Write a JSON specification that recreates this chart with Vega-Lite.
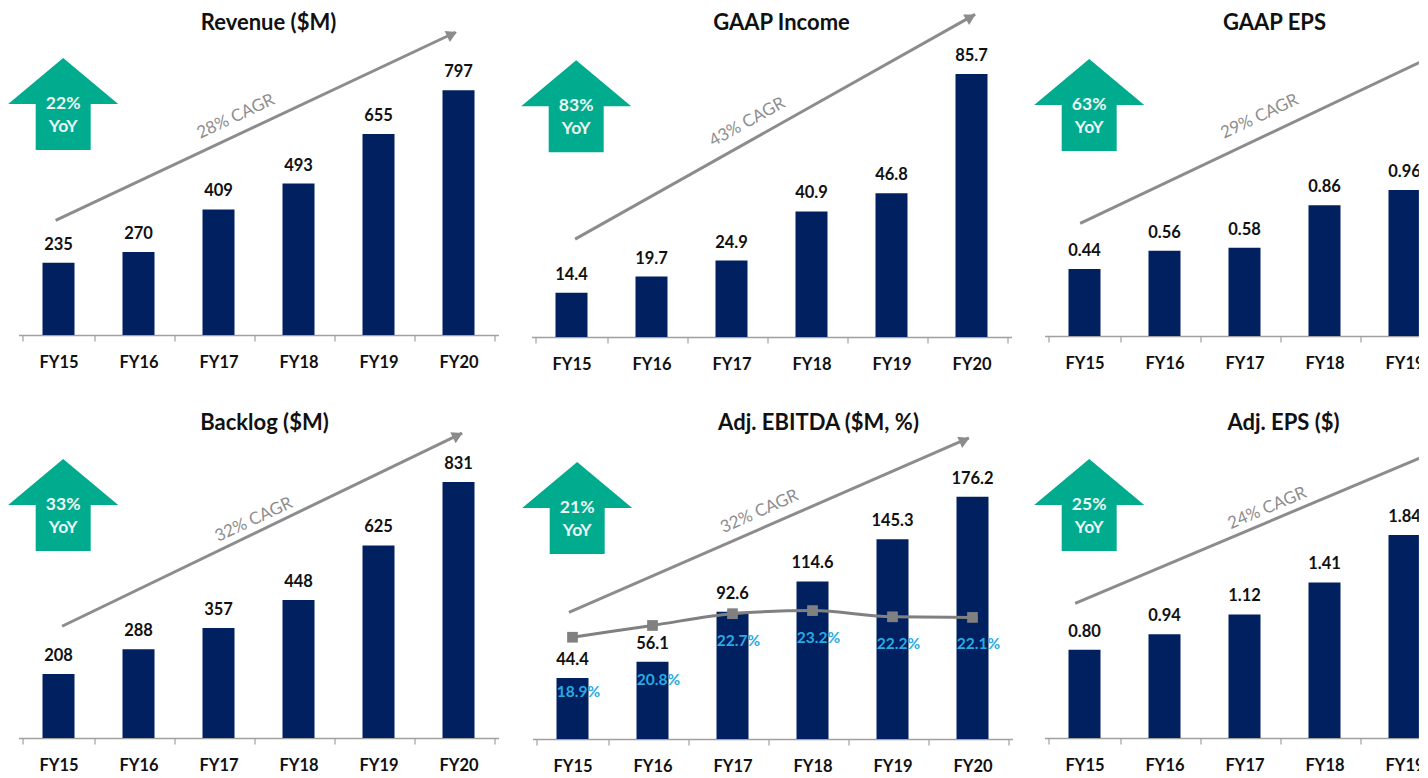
{"$schema":"https://vega.github.io/schema/vega-lite/v6.json","background":"white","padding":{"left":7.5,"top":0,"right":0,"bottom":0},"bounds":"flush","columns":3,"spacing":{"row":63,"column":33},
"config":{"view":{"stroke":null},"font":"Lato","title":{"font":"Lato","fontWeight":"bold","fontSize":22,"color":"#111111","anchor":"middle","offset":-35},
"axisX":{"title":null,"labelAngle":0,"tickBand":"extent","labelFont":"Lato","labelFontWeight":"bold","labelFontSize":16.5,"labelColor":"#111111","domainColor":"#a0a0a0","domainWidth":1.5,"tickColor":"#a0a0a0","tickWidth":1.2,"tickSize":6,"labelPadding":13,"grid":false},"axisY":{"disable":true}},
"concat":[
{"title":{"text":"Revenue ($M)","dx":10},"width":480,"height":335,"layer":[
{"data":{"values":[{"fy":"FY15","value":235},{"fy":"FY16","value":270},{"fy":"FY17","value":409},{"fy":"FY18","value":493},{"fy":"FY19","value":655},{"fy":"FY20","value":797}]},"layer":[
{"mark":{"type":"bar","width":32,"color":"#002060"},"encoding":{"x":{"field":"fy","type":"nominal"},"y":{"field":"value","type":"quantitative","scale":{"domain":[0,1091],"nice":false}}}},
{"mark":{"type":"text","font":"Lato","fontWeight":"bold","fontSize":16.5,"color":"#111111","dy":-18},"encoding":{"x":{"field":"fy","type":"nominal"},"y":{"field":"value","type":"quantitative"},"text":{"field":"value","type":"quantitative","format":"d"}}}]},
{"data":{"values":[{"fy":"FY15","v":373},{"fy":"FY20","v":986}]},"mark":{"type":"line","color":"#8c8c8c","strokeWidth":3},"encoding":{"x":{"field":"fy","type":"nominal","bandPosition":0.46},"y":{"field":"v","type":"quantitative"}}},
{"data":{"values":[{"fy":"FY20","v":979.5}]},"mark":{"type":"point","shape":"triangle-up","filled":true,"opacity":1,"size":150,"color":"#8c8c8c","angle":64.8},"encoding":{"x":{"field":"fy","type":"nominal","bandPosition":0.41},"y":{"field":"v","type":"quantitative"}}},
{"data":{"values":[{"fy":"FY17","v":711,"label":"28% CAGR"}]},"mark":{"type":"text","font":"Lato","fontSize":17,"color":"#8e8e8e","angle":-25},"encoding":{"x":{"field":"fy","type":"nominal","bandPosition":0.74},"y":{"field":"v","type":"quantitative"},"text":{"field":"label"}}},
{"data":{"values":[{"fy":"FY15","v":752.4,"label":"22%","unit":"YoY"}]},"layer":[
{"mark":{"type":"point","shape":"M0 -0.836 L1 0 L0.5 0 L0.5 0.836 L-0.5 0.836 L-0.5 0 L-1 0 Z","filled":true,"opacity":1,"size":12100,"color":"#00ab8e"},"encoding":{"x":{"field":"fy","type":"nominal","bandPosition":0.565},"y":{"field":"v","type":"quantitative"}}},
{"mark":{"type":"text","font":"Lato","fontWeight":"bold","fontSize":17.5,"color":"#eaf7f4"},"encoding":{"x":{"field":"fy","type":"nominal","bandPosition":0.565},"y":{"field":"v","type":"quantitative"},"text":{"field":"label"}}},
{"mark":{"type":"text","font":"Lato","fontWeight":"bold","fontSize":17.5,"color":"#eaf7f4","dy":23},"encoding":{"x":{"field":"fy","type":"nominal","bandPosition":0.565},"y":{"field":"v","type":"quantitative"},"text":{"field":"unit"}}}]}]},
{"title":{"text":"GAAP Income","dx":10},"width":480,"height":337,"layer":[
{"data":{"values":[{"fy":"FY15","value":14.4},{"fy":"FY16","value":19.7},{"fy":"FY17","value":24.9},{"fy":"FY18","value":40.9},{"fy":"FY19","value":46.8},{"fy":"FY20","value":85.7}]},"layer":[
{"mark":{"type":"bar","width":32,"color":"#002060"},"encoding":{"x":{"field":"fy","type":"nominal"},"y":{"field":"value","type":"quantitative","scale":{"domain":[0,109.8],"nice":false}}}},
{"mark":{"type":"text","font":"Lato","fontWeight":"bold","fontSize":16.5,"color":"#111111","dy":-18},"encoding":{"x":{"field":"fy","type":"nominal"},"y":{"field":"value","type":"quantitative"},"text":{"field":"value","type":"quantitative","format":".1f"}}}]},
{"data":{"values":[{"fy":"FY15","v":31.9},{"fy":"FY20","v":105.1}]},"mark":{"type":"line","color":"#8c8c8c","strokeWidth":3},"encoding":{"x":{"field":"fy","type":"nominal","bandPosition":0.55},"y":{"field":"v","type":"quantitative"}}},
{"data":{"values":[{"fy":"FY20","v":104.2}]},"mark":{"type":"point","shape":"triangle-up","filled":true,"opacity":1,"size":150,"color":"#8c8c8c","angle":60.7},"encoding":{"x":{"field":"fy","type":"nominal","bandPosition":0.49},"y":{"field":"v","type":"quantitative"}}},
{"data":{"values":[{"fy":"FY17","v":70,"label":"43% CAGR"}]},"mark":{"type":"text","font":"Lato","fontSize":17,"color":"#8e8e8e","angle":-29},"encoding":{"x":{"field":"fy","type":"nominal","bandPosition":0.72},"y":{"field":"v","type":"quantitative"},"text":{"field":"label"}}},
{"data":{"values":[{"fy":"FY15","v":75.2,"label":"83%","unit":"YoY"}]},"layer":[
{"mark":{"type":"point","shape":"M0 -0.836 L1 0 L0.5 0 L0.5 0.836 L-0.5 0.836 L-0.5 0 L-1 0 Z","filled":true,"opacity":1,"size":12100,"color":"#00ab8e"},"encoding":{"x":{"field":"fy","type":"nominal","bandPosition":0.565},"y":{"field":"v","type":"quantitative"}}},
{"mark":{"type":"text","font":"Lato","fontWeight":"bold","fontSize":17.5,"color":"#eaf7f4"},"encoding":{"x":{"field":"fy","type":"nominal","bandPosition":0.565},"y":{"field":"v","type":"quantitative"},"text":{"field":"label"}}},
{"mark":{"type":"text","font":"Lato","fontWeight":"bold","fontSize":17.5,"color":"#eaf7f4","dy":23},"encoding":{"x":{"field":"fy","type":"nominal","bandPosition":0.565},"y":{"field":"v","type":"quantitative"},"text":{"field":"unit"}}}]}]},
{"title":{"text":"GAAP EPS","dx":-10},"width":480,"height":336,"layer":[
{"data":{"values":[{"fy":"FY15","value":0.44},{"fy":"FY16","value":0.56},{"fy":"FY17","value":0.58},{"fy":"FY18","value":0.86},{"fy":"FY19","value":0.96},{"fy":"FY20","value":1.57}]},"layer":[
{"mark":{"type":"bar","width":32,"color":"#002060"},"encoding":{"x":{"field":"fy","type":"nominal"},"y":{"field":"value","type":"quantitative","scale":{"domain":[0,2.21],"nice":false}}}},
{"mark":{"type":"text","font":"Lato","fontWeight":"bold","fontSize":16.5,"color":"#111111","dy":-18},"encoding":{"x":{"field":"fy","type":"nominal"},"y":{"field":"value","type":"quantitative"},"text":{"field":"value","type":"quantitative","format":".2f"}}}]},
{"data":{"values":[{"fy":"FY15","v":0.741},{"fy":"FY20","v":1.989}]},"mark":{"type":"line","color":"#8c8c8c","strokeWidth":3},"encoding":{"x":{"field":"fy","type":"nominal","bandPosition":0.44},"y":{"field":"v","type":"quantitative"}}},
{"data":{"values":[{"fy":"FY17","v":1.443,"label":"29% CAGR"}]},"mark":{"type":"text","font":"Lato","fontSize":17,"color":"#8e8e8e","angle":-25},"encoding":{"x":{"field":"fy","type":"nominal","bandPosition":0.71},"y":{"field":"v","type":"quantitative"},"text":{"field":"label"}}},
{"data":{"values":[{"fy":"FY15","v":1.52,"label":"63%","unit":"YoY"}]},"layer":[
{"mark":{"type":"point","shape":"M0 -0.836 L1 0 L0.5 0 L0.5 0.836 L-0.5 0.836 L-0.5 0 L-1 0 Z","filled":true,"opacity":1,"size":12100,"color":"#00ab8e"},"encoding":{"x":{"field":"fy","type":"nominal","bandPosition":0.565},"y":{"field":"v","type":"quantitative"}}},
{"mark":{"type":"text","font":"Lato","fontWeight":"bold","fontSize":17.5,"color":"#eaf7f4"},"encoding":{"x":{"field":"fy","type":"nominal","bandPosition":0.565},"y":{"field":"v","type":"quantitative"},"text":{"field":"label"}}},
{"mark":{"type":"text","font":"Lato","fontWeight":"bold","fontSize":17.5,"color":"#eaf7f4","dy":23},"encoding":{"x":{"field":"fy","type":"nominal","bandPosition":0.565},"y":{"field":"v","type":"quantitative"},"text":{"field":"unit"}}}]},
{"data":{"values":[{"fy":"FY19","fy2":"FY20","top":2.21,"bottom":-0.5}]},"mark":{"type":"rect","color":"white"},"encoding":{"x":{"field":"fy","type":"nominal","bandPosition":0.7},"x2":{"field":"fy2"},"y":{"field":"top","type":"quantitative"},"y2":{"field":"bottom"}}}]},
{"title":{"text":"Backlog ($M)","dx":6},"width":480,"height":338,"layer":[
{"data":{"values":[{"fy":"FY15","value":208},{"fy":"FY16","value":288},{"fy":"FY17","value":357},{"fy":"FY18","value":448},{"fy":"FY19","value":625},{"fy":"FY20","value":831}]},"layer":[
{"mark":{"type":"bar","width":32,"color":"#002060"},"encoding":{"x":{"field":"fy","type":"nominal"},"y":{"field":"value","type":"quantitative","scale":{"domain":[0,1097],"nice":false}}}},
{"mark":{"type":"text","font":"Lato","fontWeight":"bold","fontSize":16.5,"color":"#111111","dy":-18},"encoding":{"x":{"field":"fy","type":"nominal"},"y":{"field":"value","type":"quantitative"},"text":{"field":"value","type":"quantitative","format":"d"}}}]},
{"data":{"values":[{"fy":"FY15","v":362.7},{"fy":"FY20","v":989.6}]},"mark":{"type":"line","color":"#8c8c8c","strokeWidth":3},"encoding":{"x":{"field":"fy","type":"nominal","bandPosition":0.55},"y":{"field":"v","type":"quantitative"}}},
{"data":{"values":[{"fy":"FY20","v":982}]},"mark":{"type":"point","shape":"triangle-up","filled":true,"opacity":1,"size":150,"color":"#8c8c8c","angle":64.2},"encoding":{"x":{"field":"fy","type":"nominal","bandPosition":0.49},"y":{"field":"v","type":"quantitative"}}},
{"data":{"values":[{"fy":"FY17","v":708,"label":"32% CAGR"}]},"mark":{"type":"text","font":"Lato","fontSize":17,"color":"#8e8e8e","angle":-25},"encoding":{"x":{"field":"fy","type":"nominal","bandPosition":0.99},"y":{"field":"v","type":"quantitative"},"text":{"field":"label"}}},
{"data":{"values":[{"fy":"FY15","v":756.5,"label":"33%","unit":"YoY"}]},"layer":[
{"mark":{"type":"point","shape":"M0 -0.836 L1 0 L0.5 0 L0.5 0.836 L-0.5 0.836 L-0.5 0 L-1 0 Z","filled":true,"opacity":1,"size":12100,"color":"#00ab8e"},"encoding":{"x":{"field":"fy","type":"nominal","bandPosition":0.565},"y":{"field":"v","type":"quantitative"}}},
{"mark":{"type":"text","font":"Lato","fontWeight":"bold","fontSize":17.5,"color":"#eaf7f4"},"encoding":{"x":{"field":"fy","type":"nominal","bandPosition":0.565},"y":{"field":"v","type":"quantitative"},"text":{"field":"label"}}},
{"mark":{"type":"text","font":"Lato","fontWeight":"bold","fontSize":17.5,"color":"#eaf7f4","dy":23},"encoding":{"x":{"field":"fy","type":"nominal","bandPosition":0.565},"y":{"field":"v","type":"quantitative"},"text":{"field":"unit"}}}]}]},
{"title":{"text":"Adj. EBITDA ($M, %)","dx":47},"width":480,"height":339,"resolve":{"scale":{"y":"independent"}},"layer":[
{"layer":[
{"data":{"values":[{"fy":"FY15","value":44.4},{"fy":"FY16","value":56.1},{"fy":"FY17","value":92.6},{"fy":"FY18","value":114.6},{"fy":"FY19","value":145.3},{"fy":"FY20","value":176.2}]},"layer":[
{"mark":{"type":"bar","width":32,"color":"#002060"},"encoding":{"x":{"field":"fy","type":"nominal","scale":{"range":[1,481]}},"y":{"field":"value","type":"quantitative","scale":{"domain":[0,246.5],"nice":false}}}},
{"mark":{"type":"text","font":"Lato","fontWeight":"bold","fontSize":16.5,"color":"#111111","dy":-18},"encoding":{"x":{"field":"fy","type":"nominal"},"y":{"field":"value","type":"quantitative"},"text":{"field":"value","type":"quantitative","format":".1f"}}}]},
{"data":{"values":[{"fy":"FY15","v":92.1},{"fy":"FY20","v":218.9}]},"mark":{"type":"line","color":"#8c8c8c","strokeWidth":3},"encoding":{"x":{"field":"fy","type":"nominal","bandPosition":0.45},"y":{"field":"v","type":"quantitative"}}},
{"data":{"values":[{"fy":"FY20","v":217.3}]},"mark":{"type":"point","shape":"triangle-up","filled":true,"opacity":1,"size":150,"color":"#8c8c8c","angle":66.4},"encoding":{"x":{"field":"fy","type":"nominal","bandPosition":0.39},"y":{"field":"v","type":"quantitative"}}},
{"data":{"values":[{"fy":"FY17","v":165.3,"label":"32% CAGR"}]},"mark":{"type":"text","font":"Lato","fontSize":17,"color":"#8e8e8e","angle":-24},"encoding":{"x":{"field":"fy","type":"nominal","bandPosition":0.875},"y":{"field":"v","type":"quantitative"},"text":{"field":"label"}}},
{"data":{"values":[{"fy":"FY15","v":168,"label":"21%","unit":"YoY"}]},"layer":[
{"mark":{"type":"point","shape":"M0 -0.836 L1 0 L0.5 0 L0.5 0.836 L-0.5 0.836 L-0.5 0 L-1 0 Z","filled":true,"opacity":1,"size":12100,"color":"#00ab8e"},"encoding":{"x":{"field":"fy","type":"nominal","bandPosition":0.565},"y":{"field":"v","type":"quantitative"}}},
{"mark":{"type":"text","font":"Lato","fontWeight":"bold","fontSize":17.5,"color":"#eaf7f4"},"encoding":{"x":{"field":"fy","type":"nominal","bandPosition":0.565},"y":{"field":"v","type":"quantitative"},"text":{"field":"label"}}},
{"mark":{"type":"text","font":"Lato","fontWeight":"bold","fontSize":17.5,"color":"#eaf7f4","dy":23},"encoding":{"x":{"field":"fy","type":"nominal","bandPosition":0.565},"y":{"field":"v","type":"quantitative"},"text":{"field":"unit"}}}]}]},
{"data":{"values":[{"fy":"FY15","pct":18.9,"label":"18.9%"},{"fy":"FY16","pct":20.8,"label":"20.8%"},{"fy":"FY17","pct":22.7,"label":"22.7%"},{"fy":"FY18","pct":23.2,"label":"23.2%"},{"fy":"FY19","pct":22.2,"label":"22.2%"},{"fy":"FY20","pct":22.1,"label":"22.1%"}]},"layer":[
{"mark":{"type":"line","color":"#808080","strokeWidth":3,"interpolate":"monotone","point":{"shape":"square","size":115,"filled":true,"opacity":1,"color":"#808080"}},"encoding":{"x":{"field":"fy","type":"nominal"},"y":{"field":"pct","type":"quantitative","scale":{"domain":[2.47,57.2],"nice":false,"zero":false}}}},
{"transform":[{"filter":"datum.fy=='FY15'||datum.fy=='FY16'"}],"mark":{"type":"text","font":"Lato","fontWeight":"bold","fontSize":15.5,"color":"#29abe2","dy":55,"dx":6},"encoding":{"x":{"field":"fy","type":"nominal"},"y":{"field":"pct","type":"quantitative"},"text":{"field":"label"}}},
{"transform":[{"filter":"datum.fy!='FY15'&&datum.fy!='FY16'"}],"mark":{"type":"text","font":"Lato","fontWeight":"bold","fontSize":15.5,"color":"#29abe2","dy":27,"dx":6},"encoding":{"x":{"field":"fy","type":"nominal"},"y":{"field":"pct","type":"quantitative"},"text":{"field":"label"}}}]}]},
{"title":{"text":"Adj. EPS ($)","dx":-1},"width":480,"height":338,"layer":[
{"data":{"values":[{"fy":"FY15","value":0.80},{"fy":"FY16","value":0.94},{"fy":"FY17","value":1.12},{"fy":"FY18","value":1.41},{"fy":"FY19","value":1.84},{"fy":"FY20","value":2.30}]},"layer":[
{"mark":{"type":"bar","width":32,"color":"#002060"},"encoding":{"x":{"field":"fy","type":"nominal"},"y":{"field":"value","type":"quantitative","scale":{"domain":[0,3.064],"nice":false}}}},
{"mark":{"type":"text","font":"Lato","fontWeight":"bold","fontSize":16.5,"color":"#111111","dy":-18},"encoding":{"x":{"field":"fy","type":"nominal"},"y":{"field":"value","type":"quantitative"},"text":{"field":"value","type":"quantitative","format":".2f"}}}]},
{"data":{"values":[{"fy":"FY15","v":1.221},{"fy":"FY20","v":2.75}]},"mark":{"type":"line","color":"#8c8c8c","strokeWidth":3},"encoding":{"x":{"field":"fy","type":"nominal","bandPosition":0.37},"y":{"field":"v","type":"quantitative"}}},
{"data":{"values":[{"fy":"FY17","v":2.082,"label":"24% CAGR"}]},"mark":{"type":"text","font":"Lato","fontSize":17,"color":"#8e8e8e","angle":-23},"encoding":{"x":{"field":"fy","type":"nominal","bandPosition":0.816},"y":{"field":"v","type":"quantitative"},"text":{"field":"label"}}},
{"data":{"values":[{"fy":"FY15","v":2.112,"label":"25%","unit":"YoY"}]},"layer":[
{"mark":{"type":"point","shape":"M0 -0.836 L1 0 L0.5 0 L0.5 0.836 L-0.5 0.836 L-0.5 0 L-1 0 Z","filled":true,"opacity":1,"size":12100,"color":"#00ab8e"},"encoding":{"x":{"field":"fy","type":"nominal","bandPosition":0.565},"y":{"field":"v","type":"quantitative"}}},
{"mark":{"type":"text","font":"Lato","fontWeight":"bold","fontSize":17.5,"color":"#eaf7f4"},"encoding":{"x":{"field":"fy","type":"nominal","bandPosition":0.565},"y":{"field":"v","type":"quantitative"},"text":{"field":"label"}}},
{"mark":{"type":"text","font":"Lato","fontWeight":"bold","fontSize":17.5,"color":"#eaf7f4","dy":23},"encoding":{"x":{"field":"fy","type":"nominal","bandPosition":0.565},"y":{"field":"v","type":"quantitative"},"text":{"field":"unit"}}}]},
{"data":{"values":[{"fy":"FY19","fy2":"FY20","top":3.064,"bottom":-0.5}]},"mark":{"type":"rect","color":"white"},"encoding":{"x":{"field":"fy","type":"nominal","bandPosition":0.7},"x2":{"field":"fy2"},"y":{"field":"top","type":"quantitative"},"y2":{"field":"bottom"}}}]}
]}
